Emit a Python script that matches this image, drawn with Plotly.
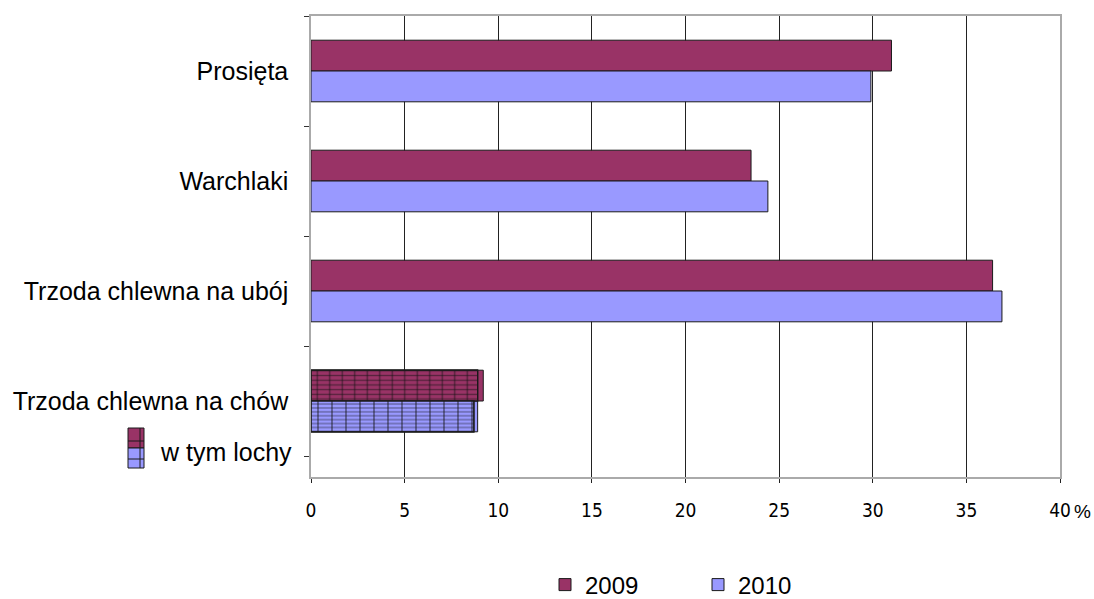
import plotly.graph_objects as go

categories = ["Prosięta", "Warchlaki", "Trzoda chlewna na ubój", "Trzoda chlewna na chów"]
values_2009 = [31.0, 23.5, 36.4, 9.2]
values_2010 = [29.9, 24.4, 36.9, 8.9]
lochy_label = "w tym lochy"
lochy_2009 = [8.9]
lochy_2010 = [8.7]
x_ticks = [0, 5, 10, 15, 20, 25, 30, 35, 40]
x_ticktext = ["0", "5", "10", "15", "20", "25", "30", "35", "40"]

MAROON = "#993366"
BLUE = "#9999FF"
EDGE = "#1a1a1a"
FONT = "Liberation Sans, Arial, sans-serif"
NARROW = "Liberation Sans Narrow, DejaVu Sans Condensed, Arial Narrow, sans-serif"

pos = list(range(len(categories)))
lochy_pos = [pos[-1]]
W = 0.28

fig = go.Figure()
fig.add_trace(go.Bar(name="2009", y=pos, x=values_2009, orientation="h",
                     offset=-W, width=W, marker=dict(color=MAROON, line=dict(color=EDGE, width=1))))
fig.add_trace(go.Bar(name="2010", y=pos, x=values_2010, orientation="h",
                     offset=0, width=W, marker=dict(color=BLUE, line=dict(color=EDGE, width=1))))

# hatched "w tym lochy" overlay
for vals, col, off, hs, vs in [(lochy_2009, MAROON, -W, 4.7, 12.5), (lochy_2010, BLUE, 0, 3.9, 14)]:
    fig.add_trace(go.Bar(y=lochy_pos, x=vals, orientation="h", offset=off, width=W, showlegend=False,
                         marker=dict(color=col, line=dict(color=EDGE, width=1.2),
                                     pattern=dict(shape="-", bgcolor=col, fgcolor="#111111",
                                                  size=hs, solidity=0.28))))
    fig.add_trace(go.Bar(y=lochy_pos, x=vals, orientation="h", offset=off, width=W, showlegend=False,
                         marker=dict(color="rgba(0,0,0,0)", line=dict(color=EDGE, width=1.2),
                                     pattern=dict(shape="|", bgcolor="rgba(0,0,0,0)", fgcolor="#111111",
                                                  size=vs, solidity=0.12))))

# legend icon for "w tym lochy"
def px_x(p):
    return (p - 311) / 749.0

def px_y(p):
    return (477 - p) / 461.0

shapes = [
    dict(type="rect", xref="paper", yref="paper", x0=px_x(128), x1=px_x(144), y0=px_y(448), y1=px_y(428),
         fillcolor=MAROON, line=dict(color=EDGE, width=1)),
    dict(type="rect", xref="paper", yref="paper", x0=px_x(128), x1=px_x(144), y0=px_y(468), y1=px_y(448),
         fillcolor=BLUE, line=dict(color=EDGE, width=1)),
    dict(type="line", xref="paper", yref="paper", x0=px_x(140), x1=px_x(140), y0=px_y(468), y1=px_y(428),
         line=dict(color=EDGE, width=1)),
    dict(type="line", xref="paper", yref="paper", x0=px_x(128), x1=px_x(144), y0=px_y(441), y1=px_y(441),
         line=dict(color=EDGE, width=1)),
    dict(type="line", xref="paper", yref="paper", x0=px_x(128), x1=px_x(144), y0=px_y(459), y1=px_y(459),
         line=dict(color=EDGE, width=1)),
]

annotations = [
    dict(text=lochy_label, xref="paper", yref="paper", x=px_x(294), y=px_y(452),
         xanchor="right", yanchor="middle", showarrow=False, font=dict(family=FONT, size=25, color="#000")),
    dict(text="%", xref="paper", yref="paper", x=px_x(1072), y=px_y(511),
         xanchor="left", yanchor="middle", showarrow=False, font=dict(family=FONT, size=19, color="#000")),
]

fig.update_layout(
    width=1094, height=599,
    margin=dict(l=311, r=34, t=16, b=122, autoexpand=False),
    paper_bgcolor="white", plot_bgcolor="white",
    barmode="overlay",
    shapes=shapes, annotations=annotations,
    legend=dict(orientation="h", x=px_x(545), y=px_y(585), xanchor="left", yanchor="middle",
                font=dict(family=FONT, size=24, color="#000"), entrywidth=108, entrywidthmode="pixels",
                bgcolor="rgba(0,0,0,0)"),
    xaxis=dict(range=[0, 40], tickvals=x_ticks, ticktext=x_ticktext, showgrid=True, automargin=False,
               gridcolor="#222222", gridwidth=1, zeroline=False,
               showline=True, linecolor="#aaaaaa", linewidth=1.5, mirror=True,
               ticks="outside", ticklen=4, tickcolor="#222", ticklabelstandoff=11,
               tickfont=dict(family=NARROW, size=19, color="#000")),
    yaxis=dict(range=[3.5 + 21 / 110.0, -0.5], tickvals=pos, ticktext=categories, showgrid=False,
               automargin=False, zeroline=False, showline=True, linecolor="#aaaaaa", linewidth=1.5, mirror=True,
               ticks="", ticklabelstandoff=16,
               tickfont=dict(family=FONT, size=25, color="#000"),
               minor=dict(tickmode="array", tickvals=[-0.5, 0.5, 1.5, 2.5, 3.5], ticks="outside",
                          ticklen=5, tickcolor="#333", showgrid=False)),
)

fig.write_html("out.html", config={"displayModeBar": False},
               post_script="document.body.style.margin='0';document.body.style.overflow='hidden';")
